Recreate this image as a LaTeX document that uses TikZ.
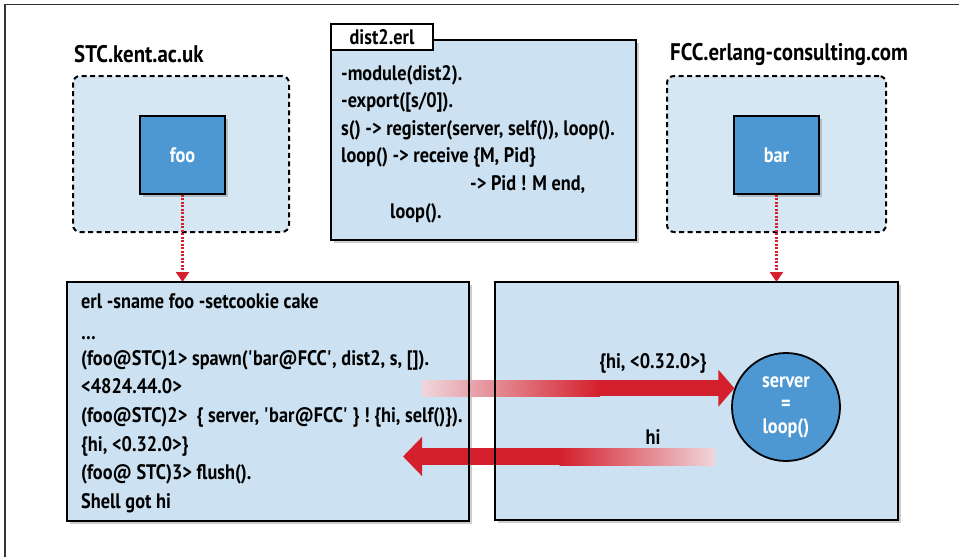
\documentclass[tikz,border=0pt]{standalone}
\usepackage{fontspec}
\setmainfont{PT Sans}[FakeStretch=0.87]
\usetikzlibrary{arrows.meta,shadows,calc}
\definecolor{boxbg}{RGB}{204,226,242}
\definecolor{dashbg}{RGB}{214,231,244}
\definecolor{nodeblue}{RGB}{77,152,210}
\definecolor{arrowred}{RGB}{212,32,44}
\definecolor{fadepink}{RGB}{240,214,220}
\begin{document}
\begin{tikzpicture}[x=1pt,y=-1pt,
  code/.style={font=\bfseries\fontsize{21}{24}\selectfont, anchor=base west, inner sep=0pt},
  title/.style={font=\bfseries\fontsize{24}{28}\selectfont, anchor=base west, inner sep=0pt},
  shadowed/.style={drop shadow={opacity=0.4,shadow xshift=2.5pt,shadow yshift=-2.5pt}},
  codebox/.style={draw=black, line width=2.2pt, fill=boxbg, shadowed, outer sep=0pt},
  hostbox/.style={draw=black, line width=2pt, dash pattern=on 5pt off 3.5pt, rounded corners=7pt, fill=dashbg},
  proc/.style={draw=black, line width=1.8pt, fill=nodeblue, text=white, font=\bfseries\fontsize{21}{24}\selectfont, shadowed},
  reddot/.style={arrowred, line width=2.2pt, dash pattern=on 2pt off 1.5pt, -{Triangle[length=10pt,width=13pt]}},
  msg/.style={font=\bfseries\fontsize{21}{24}\selectfont, inner sep=0pt}
]
\useasboundingbox (0,0) rectangle (959,557);
\draw[line width=1.3pt, black!80] (959,4.5) -- (5,4.5) -- (5,557);

% host titles
\node[title] (stc) at (74,62) {STC.kent.ac.uk};
\node[title] (fcc) at (670,60) {FCC.erlang-consulting.com};

% host boxes
\node[hostbox, minimum width=216pt, minimum height=156pt] (hostL) at (181,154) {};
\node[hostbox, minimum width=219pt, minimum height=156pt] (hostR) at (776.5,154) {};
\node[proc, minimum width=85pt, minimum height=78pt] (foo) at (182.5,155) {foo};
\node[proc, minimum width=85pt, minimum height=78pt] (bar) at (776.5,155) {bar};

% module box
\node[codebox, minimum width=305pt, minimum height=200pt] (dist) at (483.5,140) {};
\node[draw=black, line width=2.2pt, fill=white, minimum width=102pt, minimum height=26pt,
      font=\bfseries\fontsize{21}{24}\selectfont] (tab) at (382,37) {dist2.erl};
\node[code] (d1) at (341,80) {-module(dist2).};
\node[code] (d2) at (341,107.6) {-export([s/0]).};
\node[code] (d3) at (341,135.2) {s() -> register(server, self()), loop().};
\node[code] (d4) at (341,162.8) {loop() -> receive \{M, Pid\}};
\node[code] (d5) at (470,190.4) {-> Pid ! M end,};
\node[code] (d6) at (390,218) {loop().};

% lower boxes
\node[codebox, minimum width=402pt, minimum height=239pt] (L) at (268,401.5) {};
\node[codebox, minimum width=403pt, minimum height=238pt] (R) at (696.5,401) {};

\node[code] (s1) at (81,308) {erl -sname foo -setcookie cake};
\node[code] (s2) at (81,339.5) {\ldots};
\node[code] (s3) at (81,365.2) {(foo@STC)1> spawn(\textquotesingle bar@FCC\textquotesingle, dist2, s, []).};
\node[code] (s4) at (81,393.8) {<4824.44.0>};
\node[code] (s5) at (81,422.4) {(foo@STC)2>\ \ \{ server, \textquotesingle bar@FCC\textquotesingle\ \} ! \{hi, self()\}).};
\node[code] (s6) at (81,451) {\{hi, <0.32.0>\}};
\node[code] (s7) at (81,479.6) {(foo@ STC)3> flush().};
\node[code] (s8) at (81,508.2) {Shell got hi};

% server process
\node[circle, draw=black, line width=1.8pt, fill=nodeblue, minimum size=108pt, inner sep=0pt,
      text=white, align=center, font=\bfseries\fontsize{21}{23}\selectfont] (srv) at (786,407) {server\\=\\loop()};

% host -> node connectors
\draw[reddot] (foo.south) -- (foo.south |- L.north);
\draw[reddot] (bar.south) -- (bar.south |- R.north);

% message arrows
\path (srv.160) ++(-135,0) coordinate (a1m) ++(-177,0) coordinate (a1s);
\shade[left color=fadepink, right color=arrowred] ($(a1s)+(0,-8)$) rectangle ($(a1m)+(0.5,8)$);
\draw[line width=16pt, arrowred, -{Triangle[length=16pt,width=36pt]}] (a1m) -- (srv.160);

\coordinate (a2s) at (715,456.5);
\coordinate (a2m) at (560,456.5);
\coordinate (a2e) at (403,456.5);
\shade[left color=arrowred, right color=fadepink] ($(a2m)+(-0.5,-8.5)$) rectangle ($(a2s)+(0,8.5)$);
\draw[line width=17pt, arrowred, -{Triangle[length=19pt,width=38pt]}] (a2m) -- (a2e);

\node[msg] (m1) at (653,363) {\{hi, <0.32.0>\}};
\node[msg] (m2) at (653,437) {hi};

% borders over the arrows
\draw[line width=2.2pt] (L.north west) rectangle (L.south east);
\draw[line width=2.2pt] (R.north west) rectangle (R.south east);
\end{tikzpicture}
\end{document}
